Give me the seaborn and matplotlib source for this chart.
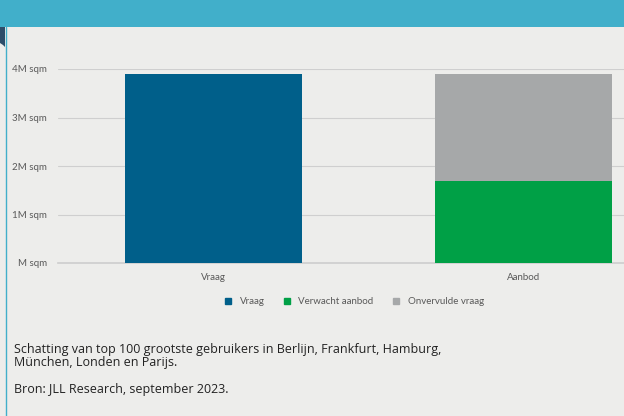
import matplotlib
matplotlib.use("Agg")
import matplotlib.pyplot as plt
from matplotlib.patches import Rectangle, Polygon
from matplotlib.lines import Line2D
import numpy as np
import seaborn as sns

# data (million sqm)
categories = ["Vraag", "Aanbod"]
vraag = [3.9, 0.0]
verwacht_aanbod = [0.0, 1.7]
onvervulde_vraag = [0.0, 2.2]
ytick_labels = ["M sqm", "1M sqm", "2M sqm", "3M sqm", "4M sqm"]

bg = "#EDEDEB"
c_vraag = "#005F8A"
c_aanbod = "#00A046"
c_onv = "#A6A8A9"

sns.set_theme(style="white")
plt.rcParams["font.family"] = ["Lato", "DejaVu Sans"]

fig = plt.figure(figsize=(6.24, 4.16), dpi=100, facecolor=bg)

# header band and side decorations
fig.patches.append(Rectangle((0, 1 - 27 / 416), 1, 27 / 416, transform=fig.transFigure,
                             facecolor="#41AFCA", edgecolor="none", zorder=0))
fig.patches.append(Polygon([(0, 1 - 27 / 416), (5 / 624, 1 - 27 / 416), (5 / 624, 1 - 47 / 416),
                            (3 / 624, 1 - 45 / 416), (0, 1 - 43 / 416)], closed=True,
                           transform=fig.transFigure, facecolor="#2D4D6A", edgecolor="none"))
fig.lines.append(Line2D([5.5 / 624, 5.5 / 624], [0, 1 - 27 / 416], transform=fig.transFigure,
                        color="#41AFCA", lw=1))

ax = fig.add_axes([58 / 624, 1 - 263 / 416, 621 / 624, 194 / 416])
ax.set_facecolor(bg)

bottoms = np.array(verwacht_aanbod)
sns.barplot(x=categories, y=vraag, color=c_vraag, width=0.57, saturation=1, ax=ax,
            zorder=3, linewidth=0)
sns.barplot(x=categories, y=verwacht_aanbod, color=c_aanbod, width=0.57, saturation=1, ax=ax,
            zorder=3, linewidth=0)
sns.barplot(x=categories, y=onvervulde_vraag, bottom=bottoms, color=c_onv, width=0.57,
            saturation=1, ax=ax, zorder=3, linewidth=0)

ax.set_xlim(-0.5, 1.5)
ax.set_ylim(0, 4)
ax.set_yticks(range(5))
ax.set_yticklabels(ytick_labels)
ax.grid(axis="y", color="#CFCFCF", lw=0.8, zorder=0)
for s in ["top", "right", "left"]:
    ax.spines[s].set_visible(False)
ax.spines["bottom"].set_color("#CFCFCF")
ax.tick_params(axis="y", length=0, pad=8, labelsize=7, labelcolor="#595959")
ax.tick_params(axis="x", length=0, pad=7, labelsize=7, labelcolor="#595959")
ax.set_xticks([-0.5, 0.5, 1.5], minor=True)
ax.tick_params(axis="x", which="minor", length=3, color="#CFCFCF")
ax.set_xlabel("")
ax.set_ylabel("")

handles = [Line2D([], [], marker="s", ls="", color=c, markersize=5)
           for c in [c_vraag, c_aanbod, c_onv]]
fig.legend(handles, ["Vraag", "Verwacht aanbod", "Onvervulde vraag"], loc="center",
           bbox_to_anchor=(351 / 624, 1 - 302 / 416), ncol=3, frameon=False, fontsize=7,
           labelcolor="#595959", handletextpad=0.2, columnspacing=1.3)

fig.text(14 / 624, 1 - 356 / 416,
         "Schatting van top 100 grootste gebruikers in Berlijn, Frankfurt, Hamburg,\nMünchen, Londen en Parijs.",
         fontsize=9, color="#222222", va="center", linespacing=0.95, family="Open Sans")
fig.text(14 / 624, 1 - 389 / 416, "Bron: JLL Research, september 2023.",
         fontsize=9, color="#222222", va="center", family="Open Sans")

fig.savefig("out.png", dpi=100, facecolor=bg)
